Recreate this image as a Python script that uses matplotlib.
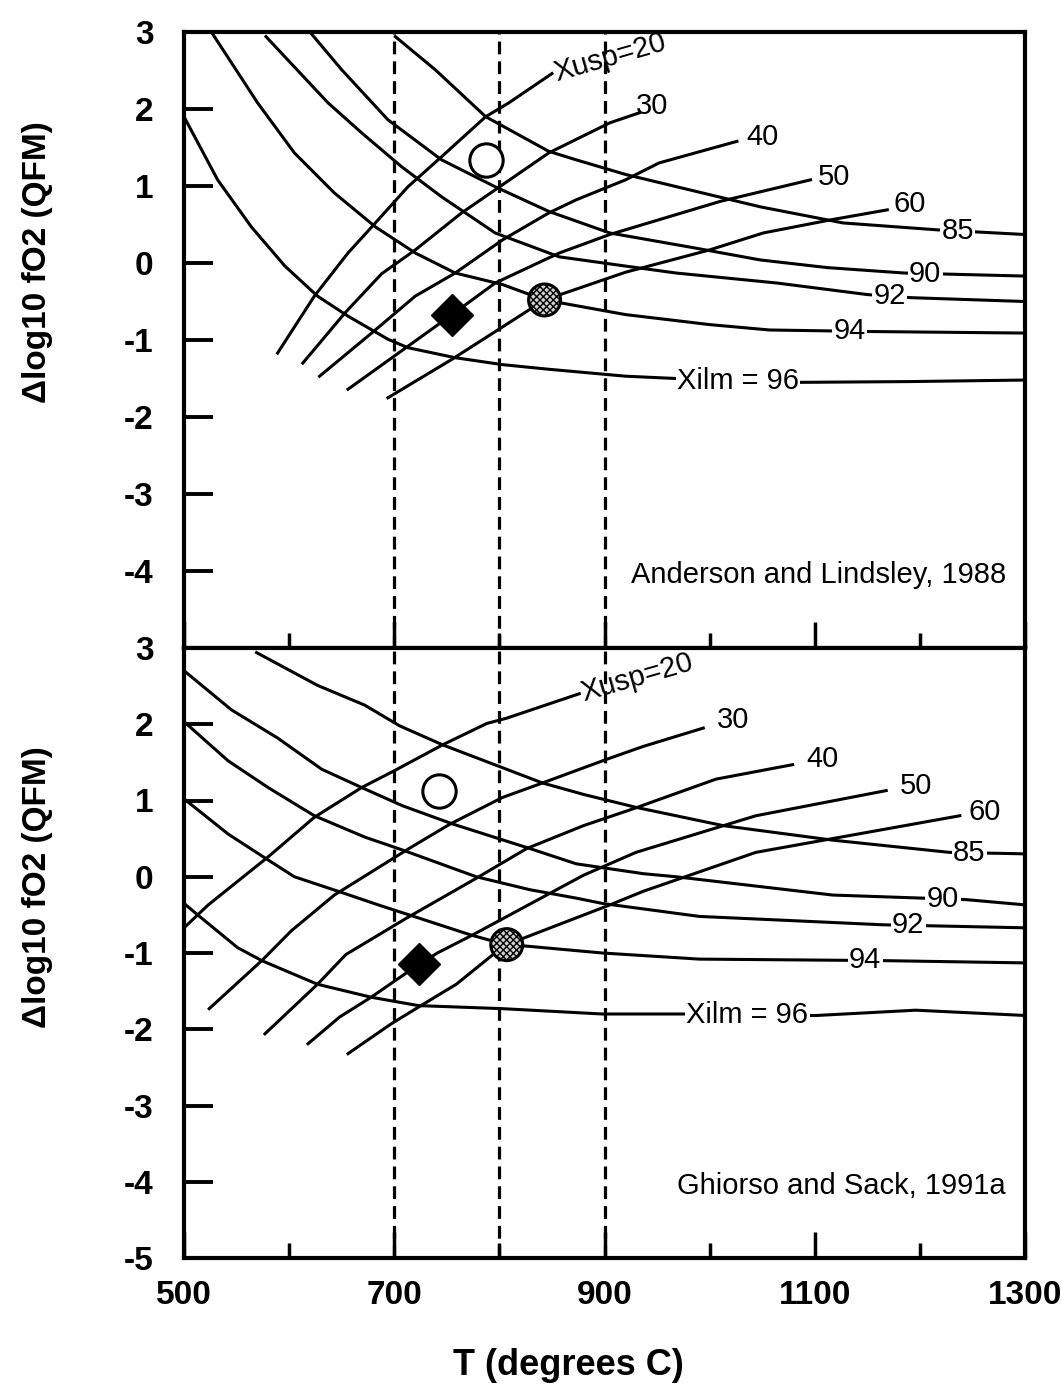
import numpy as np
import matplotlib.pyplot as plt

plt.rcParams['font.family'] = ['Liberation Sans', 'DejaVu Sans']
plt.rcParams['axes.unicode_minus'] = False
plt.rcParams['hatch.linewidth'] = 1.0

# ---- Anderson and Lindsley, 1988 (top panel) ----
top_ilm96_T = [500, 532, 564, 596, 627, 656, 694, 713, 758, 803, 847, 920, 1000, 1085, 1190, 1300]
top_ilm96_f = [1.90, 1.08, 0.47, -0.04, -0.43, -0.69, -0.99, -1.10, -1.23, -1.32, -1.38, -1.47, -1.52, -1.55, -1.54, -1.52]
top_ilm94_T = [527, 570, 605, 643, 682, 720, 758, 803, 843, 920, 1000, 1057, 1153, 1300]
top_ilm94_f = [2.98, 2.08, 1.43, 0.91, 0.47, 0.13, -0.13, -0.28, -0.48, -0.67, -0.80, -0.87, -0.89, -0.91]
top_ilm92_T = [578, 602, 637, 669, 707, 745, 796, 857, 920, 968, 1064, 1150, 1191, 1300]
top_ilm92_f = [2.94, 2.59, 2.08, 1.69, 1.25, 0.86, 0.39, 0.08, -0.04, -0.13, -0.26, -0.41, -0.45, -0.50]
top_ilm90_T = [621, 650, 694, 745, 796, 847, 905, 984, 1048, 1112, 1185, 1300]
top_ilm90_f = [2.98, 2.51, 1.86, 1.34, 0.99, 0.67, 0.39, 0.20, 0.04, -0.06, -0.13, -0.17]
top_ilm85_T = [701, 739, 787, 847, 873, 920, 1048, 1127, 1217, 1300]
top_ilm85_f = [2.94, 2.51, 1.90, 1.45, 1.34, 1.15, 0.73, 0.52, 0.43, 0.37]

top_usp20_T = [589, 624, 656, 682, 713, 745, 787, 809, 850]
top_usp20_f = [-1.17, -0.43, 0.13, 0.52, 0.99, 1.38, 1.90, 2.08, 2.46]
top_usp30_T = [613, 653, 688, 720, 764, 796, 847, 905, 933]
top_usp30_f = [-1.30, -0.65, -0.14, 0.17, 0.65, 0.95, 1.43, 1.82, 1.95]
top_usp40_T = [629, 682, 720, 758, 803, 847, 873, 920, 952, 1026]
top_usp40_f = [-1.47, -0.87, -0.43, -0.13, 0.30, 0.65, 0.82, 1.08, 1.30, 1.58]
top_usp50_T = [656, 755, 796, 857, 905, 1010, 1096]
top_usp50_f = [-1.64, -0.67, -0.26, 0.13, 0.37, 0.80, 1.08]
top_usp60_T = [694, 755, 843, 920, 1000, 1051, 1115, 1169]
top_usp60_f = [-1.75, -1.25, -0.48, -0.12, 0.17, 0.39, 0.56, 0.69]

top_ilm_lab_T = [1236, 1205, 1171, 1133, 1027]
top_usp_lab_T = [945, 1050, 1118, 1190]
top_usp_lab_f = [2.04, 1.63, 1.12, 0.76]
top_open = (787, 1.34)
top_diamond = (755, -0.67)
top_gray = (843, -0.48)

# ---- Ghiorso and Sack, 1991a (bottom panel) ----
bot_ilm96_T = [500, 513, 551, 574, 615, 627, 678, 723, 803, 898, 975, 1101, 1196, 1301]
bot_ilm96_f = [-0.35, -0.50, -0.93, -1.10, -1.34, -1.41, -1.58, -1.69, -1.73, -1.80, -1.80, -1.82, -1.75, -1.82]
bot_ilm94_T = [502, 542, 580, 605, 653, 685, 723, 772, 806, 826, 898, 990, 1165, 1301]
bot_ilm94_f = [1.00, 0.56, 0.22, 0.00, -0.22, -0.37, -0.54, -0.76, -0.89, -0.91, -1.00, -1.08, -1.10, -1.13]
bot_ilm92_T = [502, 542, 580, 624, 672, 708, 778, 829, 873, 898, 990, 1165, 1301]
bot_ilm92_f = [2.01, 1.52, 1.17, 0.80, 0.52, 0.35, 0.00, -0.17, -0.28, -0.35, -0.52, -0.63, -0.67]
bot_ilm90_T = [502, 545, 589, 631, 669, 708, 756, 829, 873, 937, 968, 1117, 1244, 1301]
bot_ilm90_f = [2.68, 2.19, 1.82, 1.41, 1.17, 0.93, 0.69, 0.37, 0.17, 0.04, 0.00, -0.24, -0.30, -0.37]
bot_ilm85_T = [569, 627, 672, 705, 746, 803, 841, 880, 930, 1013, 1117, 1228, 1301]
bot_ilm85_f = [2.94, 2.51, 2.25, 1.98, 1.73, 1.43, 1.23, 1.08, 0.91, 0.67, 0.48, 0.32, 0.30]

bot_usp20_T = [500, 523, 551, 580, 624, 669, 700, 746, 788, 807, 876]
bot_usp20_f = [-0.67, -0.37, -0.06, 0.26, 0.78, 1.17, 1.39, 1.73, 2.01, 2.08, 2.40]
bot_usp30_T = [524, 574, 602, 643, 714, 753, 803, 841, 902, 937, 994]
bot_usp30_f = [-1.73, -1.10, -0.71, -0.24, 0.37, 0.69, 1.04, 1.23, 1.54, 1.71, 1.95]
bot_usp40_T = [577, 627, 654, 712, 778, 826, 880, 927, 1006, 1079]
bot_usp40_f = [-2.06, -1.41, -1.02, -0.54, -0.02, 0.37, 0.67, 0.89, 1.28, 1.47]
bot_usp50_T = [618, 648, 678, 718, 741, 775, 845, 880, 930, 1044, 1168]
bot_usp50_f = [-2.19, -1.84, -1.58, -1.20, -1.00, -0.76, -0.24, 0.02, 0.32, 0.80, 1.13]
bot_usp60_T = [656, 697, 723, 759, 794, 807, 905, 937, 1044, 1238]
bot_usp60_f = [-2.32, -1.93, -1.71, -1.41, -1.02, -0.89, -0.37, -0.19, 0.32, 0.80]

bot_ilm_lab_T = [1247, 1222, 1189, 1148, 1036]
bot_usp_lab_T = [1022, 1107, 1196, 1262]
bot_usp_lab_f = [2.06, 1.55, 1.19, 0.85]
bot_open = (743, 1.13)
bot_diamond = (724, -1.15)
bot_gray = (807, -0.89)

ilm_names = ['85', '90', '92', '94', 'Xilm = 96']
usp_names = ['30', '40', '50', '60']
dash_T = [700, 800, 900]

W, H = 1062, 1385
fig = plt.figure(figsize=(W / 100, H / 100), dpi=100)
ax_top = fig.add_axes([184 / W, 1 - 648 / H, 841 / W, 616 / H])
ax_bot = fig.add_axes([184 / W, 1 - 1258 / H, 841 / W, 610 / H])


def draw_panel(ax, ilm, usp, ilm_lab_T, usp_lab_T, usp_lab_f, open_pt, dia_pt, gray_pt, cite, yticks):
    for T, f in ilm + usp:
        ax.plot(T, f, color='black', lw=2.2)

    for t in dash_T:
        ax.axvline(t, color='black', lw=2.3, ls=(0, (4, 2.2)))

    # inline Xilm labels sit on their curve
    for (T, f), name, lt in zip(ilm, ilm_names, ilm_lab_T):
        ax.text(lt, np.interp(lt, T, f), name, fontsize=21, ha='center', va='center',
                bbox=dict(facecolor='white', edgecolor='none', pad=1.0), zorder=4)

    # Xusp labels at line ends
    T20, f20 = usp[0]
    ax.text(T20[-1] + 2, f20[-1], 'Xusp=20', fontsize=21, ha='left', va='center',
            rotation=16, rotation_mode='anchor', zorder=4)
    for name, lt, lf in zip(usp_names, usp_lab_T, usp_lab_f):
        ax.text(lt, lf, name, fontsize=21, ha='center', va='center', zorder=4)

    ax.plot(open_pt[0], open_pt[1], 'o', ms=24, mfc='white', mec='black', mew=2.2, zorder=5)
    ax.plot(dia_pt[0], dia_pt[1], 'D', ms=21, color='black', zorder=5)
    ax.scatter([gray_pt[0]], [gray_pt[1]], s=23 ** 2, facecolor='#d0d0d0', edgecolor='black',
               hatch='xxxxx', linewidths=2.2, zorder=5)

    ax.text(1282, -4.05, cite, fontsize=21, ha='right', va='center')

    ax.set_xlim(500, 1300)
    ax.set_ylim(-5, 3)
    ax.set_xticks([500, 700, 900, 1100, 1300])
    ax.set_xticks([600, 800, 1000, 1200], minor=True)
    ax.set_yticks(yticks)
    ax.tick_params(axis='y', direction='in', length=21, width=2.8, pad=22, labelsize=24)
    ax.tick_params(axis='x', which='major', direction='in', length=19, width=2.5, pad=16, labelsize=24)
    ax.tick_params(axis='x', which='minor', direction='in', length=11, width=2.5)
    for lab in ax.get_yticklabels() + ax.get_xticklabels():
        lab.set_fontweight('bold')
    for sp in ax.spines.values():
        sp.set_linewidth(3)

    ax.set_ylabel('\u0394log10 fO2 (QFM)', fontsize=24, fontweight='bold')


draw_panel(ax_top,
           [(top_ilm85_T, top_ilm85_f), (top_ilm90_T, top_ilm90_f), (top_ilm92_T, top_ilm92_f),
            (top_ilm94_T, top_ilm94_f), (top_ilm96_T, top_ilm96_f)],
           [(top_usp20_T, top_usp20_f), (top_usp30_T, top_usp30_f), (top_usp40_T, top_usp40_f),
            (top_usp50_T, top_usp50_f), (top_usp60_T, top_usp60_f)],
           top_ilm_lab_T, top_usp_lab_T, top_usp_lab_f, top_open, top_diamond, top_gray,
           'Anderson and Lindsley, 1988', range(-4, 4))

draw_panel(ax_bot,
           [(bot_ilm85_T, bot_ilm85_f), (bot_ilm90_T, bot_ilm90_f), (bot_ilm92_T, bot_ilm92_f),
            (bot_ilm94_T, bot_ilm94_f), (bot_ilm96_T, bot_ilm96_f)],
           [(bot_usp20_T, bot_usp20_f), (bot_usp30_T, bot_usp30_f), (bot_usp40_T, bot_usp40_f),
            (bot_usp50_T, bot_usp50_f), (bot_usp60_T, bot_usp60_f)],
           bot_ilm_lab_T, bot_usp_lab_T, bot_usp_lab_f, bot_open, bot_diamond, bot_gray,
           'Ghiorso and Sack, 1991a', range(-5, 4))

ax_top.tick_params(axis='x', labelbottom=False)
ax_top.yaxis.set_label_coords(-0.156, 0.627)
ax_bot.yaxis.set_label_coords(-0.156, 0.608)
ax_bot.set_xlabel('T (degrees C)', fontsize=26, fontweight='bold')
ax_bot.xaxis.set_label_coords(0.457, -0.148)

fig.savefig('out.png', dpi=100)
